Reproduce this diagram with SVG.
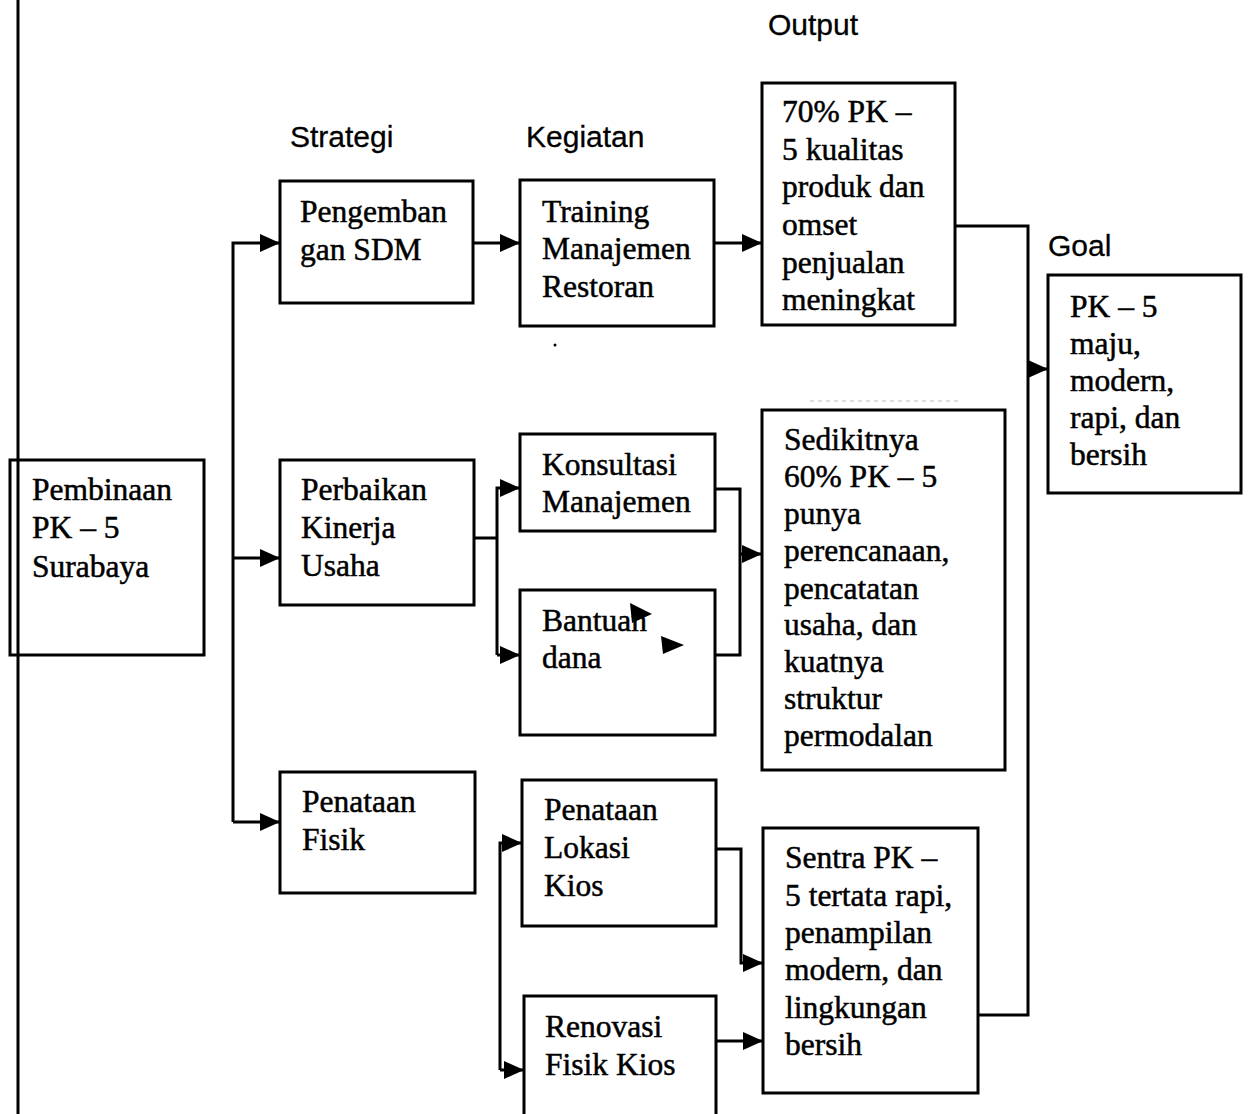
<svg xmlns="http://www.w3.org/2000/svg" width="1250" height="1114" viewBox="0 0 1250 1114">
<defs>
<marker id="ah" markerUnits="userSpaceOnUse" markerWidth="20" markerHeight="18" refX="20" refY="9" orient="auto">
<path d="M0,0 L20,9 L0,18 z" fill="#000"/>
</marker>
<style>
.box{fill:#fff;stroke:#000;stroke-width:3}
.t{font-family:"Liberation Serif","Times New Roman",serif;font-size:31.5px;fill:#000;stroke:#000;stroke-width:0.5}
.h{font-family:"Liberation Sans",Arial,sans-serif;font-size:30px;fill:#000;stroke:#000;stroke-width:0.3}
.c{fill:none;stroke:#000;stroke-width:3}
</style>
</defs>
<rect width="1250" height="1114" fill="#fff"/>
<line x1="18" y1="0" x2="18" y2="1114" stroke="#000" stroke-width="3"/>

<g id="headers">
<text class="h" x="290" y="147">Strategi</text>
<text class="h" x="526" y="147">Kegiatan</text>
<text class="h" x="768" y="35">Output</text>
<text class="h" x="1048" y="256">Goal</text>
</g>

<g id="connectors">
<path class="c" d="M233,822 L233,243 L280,243" marker-end="url(#ah)"/>
<path class="c" d="M233,558 L280,558" marker-end="url(#ah)"/>
<path class="c" d="M233,822 L280,822" marker-end="url(#ah)"/>
<path class="c" d="M473,243 L520,243" marker-end="url(#ah)"/>
<path class="c" d="M714,243 L762,243" marker-end="url(#ah)"/>
<path class="c" d="M474,538 L497,538"/>
<path class="c" d="M497,655 L497,488 L520,488" marker-end="url(#ah)"/>
<path class="c" d="M497,655 L520,655" marker-end="url(#ah)"/>
<path class="c" d="M715,489 L740,489 L740,655 L715,655"/>
<path class="c" d="M740,554 L762,554" marker-end="url(#ah)"/>
<path class="c" d="M500,1070 L500,843 L522,843" marker-end="url(#ah)"/>
<path class="c" d="M500,1070 L524,1070" marker-end="url(#ah)"/>
<path class="c" d="M716,849 L741,849 L741,963 L763,963" marker-end="url(#ah)"/>
<path class="c" d="M716,1041 L763,1041" marker-end="url(#ah)"/>
<path class="c" d="M955,226 L1028,226 L1028,1015 L978,1015"/>
<path class="c" d="M1028,369 L1048,369" marker-end="url(#ah)"/>
<circle cx="555" cy="345" r="1.5" fill="#000"/>
<line x1="810" y1="401" x2="960" y2="401" stroke="#bbb" stroke-width="1" stroke-dasharray="4,4"/>
</g>

<g id="n-pembinaan">
<rect class="box" x="10" y="460" width="194" height="195"/>
<text class="t" x="32" y="500">Pembinaan</text>
<text class="t" x="32" y="538">PK – 5</text>
<text class="t" x="32" y="577">Surabaya</text>
</g>
<line x1="18" y1="460" x2="18" y2="655" stroke="#000" stroke-width="3"/>

<g id="n-pengembangan">
<rect class="box" x="280" y="181" width="193" height="122"/>
<text class="t" x="300" y="222">Pengemban</text>
<text class="t" x="300" y="260">gan SDM</text>
</g>

<g id="n-training">
<rect class="box" x="520" y="180" width="194" height="146"/>
<text class="t" x="542" y="222">Training</text>
<text class="t" x="542" y="259">Manajemen</text>
<text class="t" x="542" y="297">Restoran</text>
</g>

<g id="n-output1">
<rect class="box" x="762" y="83" width="193" height="242"/>
<text class="t" x="782" y="122">70% PK –</text>
<text class="t" x="782" y="160">5 kualitas</text>
<text class="t" x="782" y="197">produk dan</text>
<text class="t" x="782" y="235">omset</text>
<text class="t" x="782" y="273">penjualan</text>
<text class="t" x="782" y="310">meningkat</text>
</g>

<g id="n-goal">
<rect class="box" x="1048" y="275" width="193" height="218"/>
<text class="t" x="1070" y="317">PK – 5</text>
<text class="t" x="1070" y="354">maju,</text>
<text class="t" x="1070" y="391">modern,</text>
<text class="t" x="1070" y="428">rapi, dan</text>
<text class="t" x="1070" y="465">bersih</text>
</g>

<g id="n-perbaikan">
<rect class="box" x="280" y="460" width="194" height="145"/>
<text class="t" x="301" y="500">Perbaikan</text>
<text class="t" x="301" y="538">Kinerja</text>
<text class="t" x="301" y="576">Usaha</text>
</g>

<g id="n-konsultasi">
<rect class="box" x="520" y="434" width="195" height="97"/>
<text class="t" x="542" y="475">Konsultasi</text>
<text class="t" x="542" y="512">Manajemen</text>
</g>

<g id="n-bantuan">
<rect class="box" x="520" y="590" width="195" height="145"/>
<text class="t" x="542" y="631">Bantuan</text>
<text class="t" x="542" y="668">dana</text>
</g>

<g id="stray-arrowheads">
<path d="M630,603 L652,614 L632,623 z" fill="#000"/>
<path d="M661,636 L684,645 L663,654 z" fill="#000"/>
</g>

<g id="n-output2">
<rect class="box" x="762" y="410" width="243" height="360"/>
<text class="t" x="784" y="450">Sedikitnya</text>
<text class="t" x="784" y="487">60% PK – 5</text>
<text class="t" x="784" y="524">punya</text>
<text class="t" x="784" y="561">perencanaan,</text>
<text class="t" x="784" y="599">pencatatan</text>
<text class="t" x="784" y="635">usaha, dan</text>
<text class="t" x="784" y="672">kuatnya</text>
<text class="t" x="784" y="709">struktur</text>
<text class="t" x="784" y="746">permodalan</text>
</g>

<g id="n-penataan-fisik">
<rect class="box" x="280" y="772" width="195" height="121"/>
<text class="t" x="302" y="812">Penataan</text>
<text class="t" x="302" y="850">Fisik</text>
</g>

<g id="n-lokasi">
<rect class="box" x="522" y="780" width="194" height="146"/>
<text class="t" x="544" y="820">Penataan</text>
<text class="t" x="544" y="858">Lokasi</text>
<text class="t" x="544" y="896">Kios</text>
</g>

<g id="n-renovasi">
<rect class="box" x="524" y="996" width="192" height="130"/>
<text class="t" x="545" y="1037">Renovasi</text>
<text class="t" x="545" y="1075">Fisik Kios</text>
</g>

<g id="n-output3">
<rect class="box" x="763" y="828" width="215" height="265"/>
<text class="t" x="785" y="868">Sentra PK –</text>
<text class="t" x="785" y="906">5 tertata rapi,</text>
<text class="t" x="785" y="943">penampilan</text>
<text class="t" x="785" y="980">modern, dan</text>
<text class="t" x="785" y="1018">lingkungan</text>
<text class="t" x="785" y="1055">bersih</text>
</g>
</svg>
